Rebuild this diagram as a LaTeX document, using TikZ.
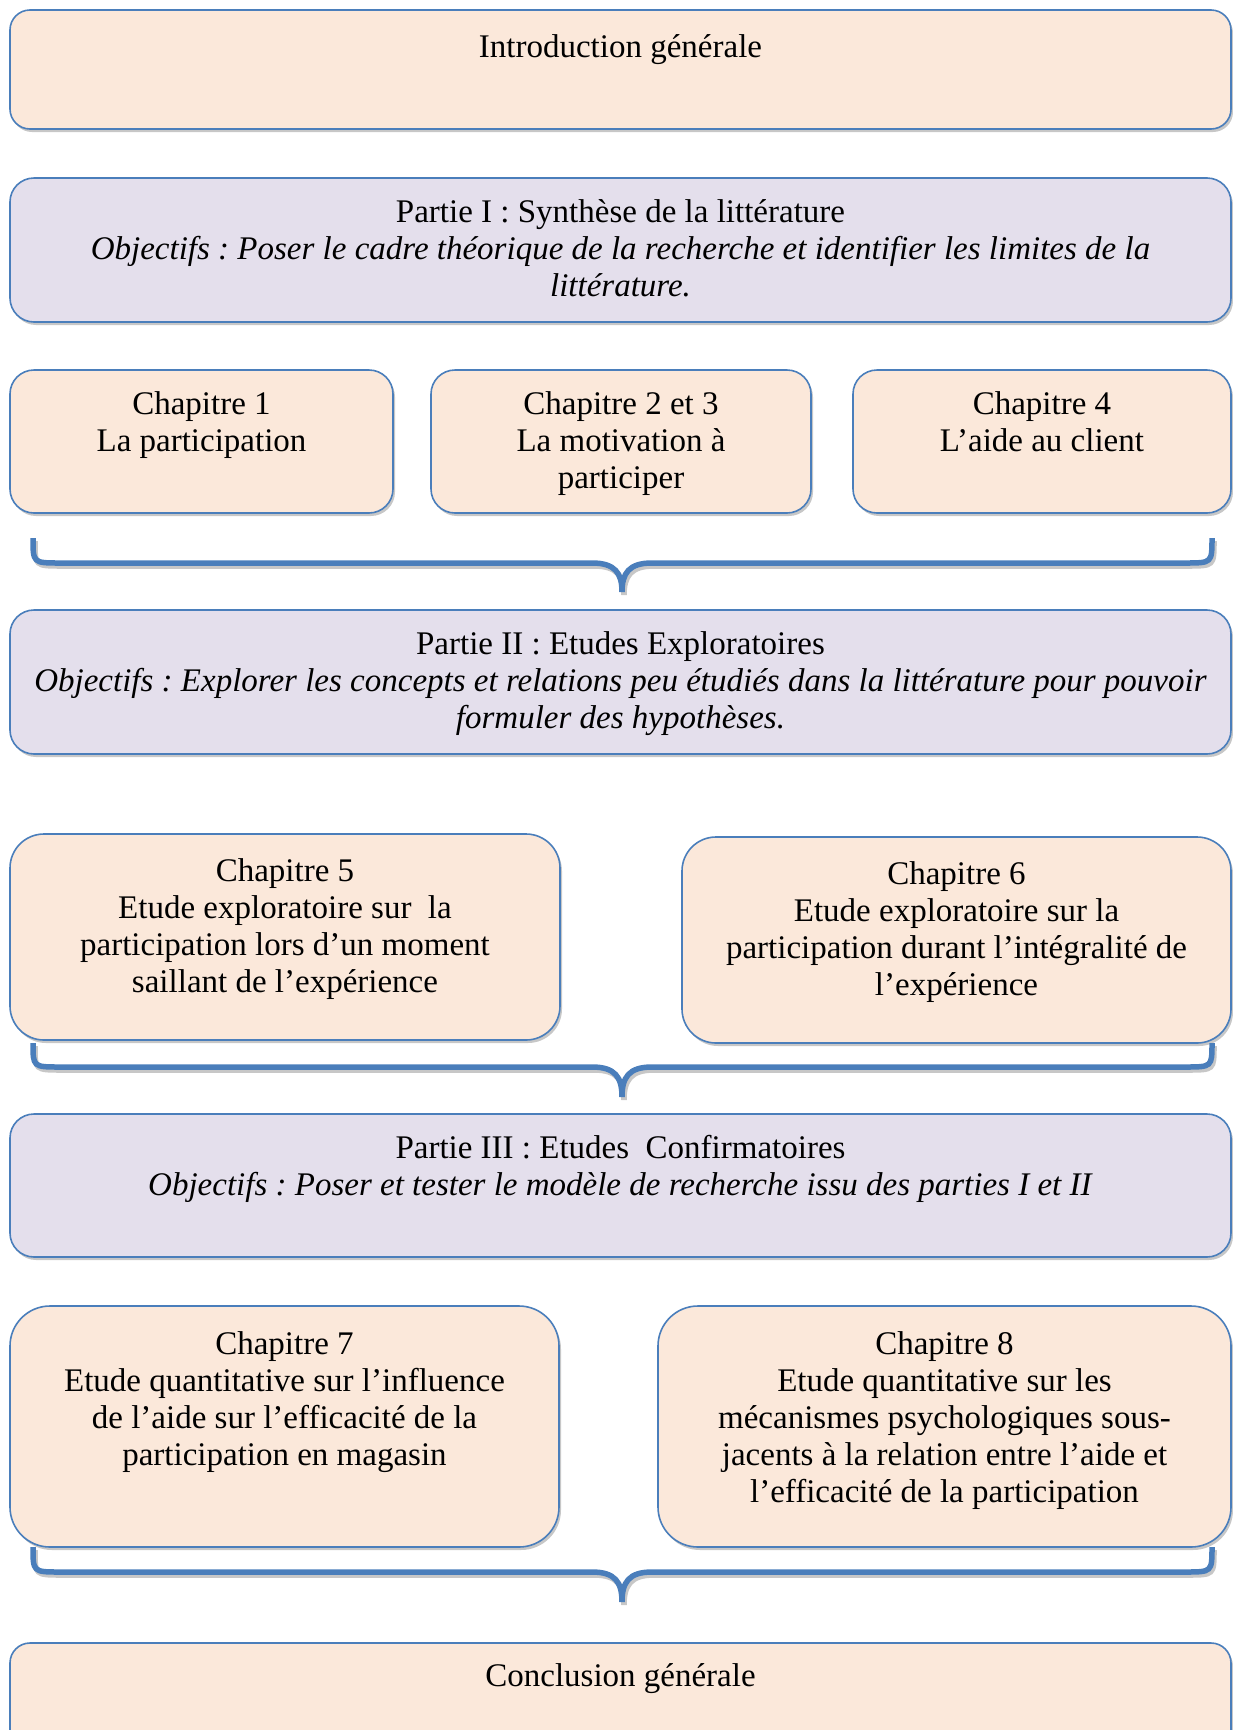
\documentclass[tikz,border=0pt]{standalone}
\usepackage{fontspec}
\setmainfont{Liberation Serif}
\usetikzlibrary{positioning,fit,shadows}
\definecolor{peach}{HTML}{FBE8DA}
\definecolor{lilac}{HTML}{E4DFEC}
\definecolor{frameblue}{HTML}{4A7EBB}
\tikzset{
    box/.style={draw=frameblue, line width=1.6pt, inner sep=0pt,
        drop shadow={shadow xshift=2pt, shadow yshift=-3pt, fill=black!22, opacity=1}},
    peachbox/.style={box, fill=peach},
    lilacbox/.style={box, fill=lilac},
    txt/.style={align=center, inner sep=0pt, font=\fontsize{33}{37}\selectfont,
        execute at begin node=\strut},
    bracepath/.style={draw=frameblue, line width=5.5pt},
}
\frenchspacing
\begin{document}
\begin{tikzpicture}[x=1pt, y=-1pt]
            \useasboundingbox (0,0) rectangle (1232,1730);
            % boxes
            \node[peachbox, rounded corners=20pt, fit={(10,10) (1231,129)}] (intro) {};
            \node[lilacbox, rounded corners=24pt, fit={(10,178) (1231,322)}] (partI) {};
            \node[peachbox, rounded corners=24pt, fit={(10,370) (393,513)}] (chI) {};
            \node[peachbox, rounded corners=24pt, fit={(431,370) (811,513)}] (chII) {};
            \node[peachbox, rounded corners=24pt, fit={(853,370) (1231,513)}] (chIV) {};
            \node[lilacbox, rounded corners=24pt, fit={(10,610) (1231,754)}] (partII) {};
            \node[peachbox, rounded corners=34pt, fit={(10,834) (560,1040)}] (chV) {};
            \node[peachbox, rounded corners=34pt, fit={(682,837) (1231,1043)}] (chVI) {};
            \node[lilacbox, rounded corners=24pt, fit={(10,1114) (1231,1257)}] (partIII) {};
            \node[peachbox, rounded corners=40pt, fit={(10,1306) (559,1547)}] (chVII) {};
            \node[peachbox, rounded corners=40pt, fit={(658,1306) (1231,1547)}] (chVIII) {};
            \node[peachbox, rounded corners=20pt, fit={(10,1643) (1231,1765)}] (concl) {};
            % texts
            \node[txt, below=22pt of intro.north] (introtxt) {Introduction générale};
            \node[txt, below=22pt of partI.north] (partItxt) {Partie I : Synthèse de la littérature\\
                \textit{Objectifs : Poser le cadre théorique de la recherche et identifier les limites de la}\\
                \textit{littérature.}};
            \node[txt, below=22pt of chI.north] (chItxt) {Chapitre 1\\La participation};
            \node[txt, below=22pt of chII.north] (chIItxt) {Chapitre 2 et 3\\La motivation à\\participer};
            \node[txt, below=22pt of chIV.north] (chIVtxt) {Chapitre 4\\L’aide au client};
            \node[txt, below=22pt of partII.north] (partIItxt) {Partie II : Etudes Exploratoires\\
                \textit{Objectifs : Explorer les concepts et relations peu étudiés dans la littérature pour pouvoir}\\
                \textit{formuler des hypothèses.}};
            \node[txt, below=25pt of chV.north] (chVtxt) {Chapitre 5\\Etude exploratoire sur~ la\\
                participation lors d’un moment\\saillant de l’expérience};
            \node[txt, below=25pt of chVI.north] (chVItxt) {Chapitre 6\\Etude exploratoire sur la\\
                participation durant l’intégralité de\\l’expérience};
            \node[txt, below=22pt of partIII.north] (partIIItxt) {Partie III : Etudes~ Confirmatoires\\
                \textit{Objectifs : Poser et tester le modèle de recherche issu des parties I et II}};
            \node[txt, below=26pt of chVII.north] (chVIItxt) {Chapitre 7\\Etude quantitative sur l’influence\\
                de l’aide sur l’efficacité de la\\participation en magasin};
            \node[txt, below=26pt of chVIII.north] (chVIIItxt) {Chapitre 8\\Etude quantitative sur les\\
                mécanismes psychologiques sous-\\jacents à la relation entre l’aide et\\l’efficacité de la participation};
            \node[txt, below=18pt of concl.north] (concltxt) {Conclusion générale};
            % braces
            \foreach \yt/\ym/\yp in {538/563/592, 1043/1067/1097, 1547/1572/1602} {
                \draw[bracepath, draw=black!22, shift={(2,3)}] (33,\yt) .. controls (33,\ym) .. (60,\ym) -- (592,\ym)
                    .. controls (615,\ym) and (622,\ym+10) .. (622,\yp) .. controls (622,\ym+10) and (629,\ym) .. (652,\ym)
                    -- (1185,\ym) .. controls (1212,\ym) .. (1212,\yt);
                \draw[bracepath] (33,\yt) .. controls (33,\ym) .. (60,\ym) -- (592,\ym)
                    .. controls (615,\ym) and (622,\ym+10) .. (622,\yp) .. controls (622,\ym+10) and (629,\ym) .. (652,\ym)
                    -- (1185,\ym) .. controls (1212,\ym) .. (1212,\yt);
            }
        \end{tikzpicture}
\end{document}
